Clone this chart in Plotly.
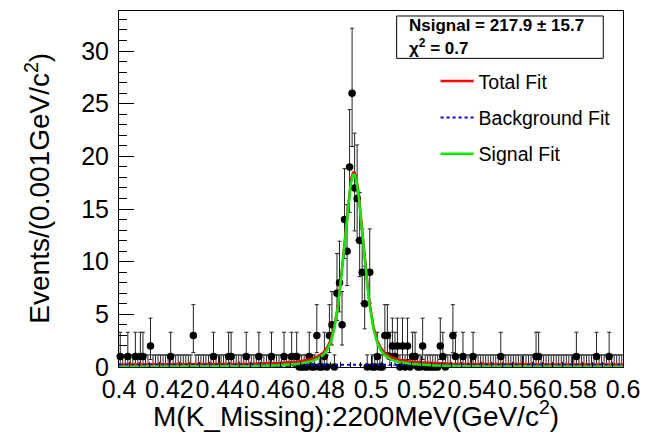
import math
import numpy as np
import plotly.graph_objects as go

FONT = "Liberation Sans, Arial, Helvetica, sans-serif"

# ---------------------------------------------------------------- data
X_RANGE = [0.4, 0.6]
Y_RANGE = [0.0, 33.8]
BIN_WIDTH = 0.001

# events per 1 MeV bin of M(K_Missing), 0.400 - 0.600 GeV (20 bins per row)
counts = [
    1, 0, 0, 1, 0, 0, 1, 0, 1, 1,   0, 0, 2, 0, 0, 0, 0, 0, 0, 0,   # 0.400-0.419
    1, 0, 0, 0, 0, 0, 0, 0, 0, 3,   0, 0, 0, 0, 0, 0, 0, 1, 0, 0,   # 0.420-0.439
    0, 0, 0, 1, 1, 0, 0, 0, 0, 0,   1, 0, 0, 0, 0, 1, 0, 0, 0, 0,   # 0.440-0.459
    1, 0, 0, 0, 0, 1, 0, 0, 1, 0,   1, 0, 0, 0, 0, 1, 0, 0, 3, 0,   # 0.460-0.479
    0, 1, 0, 3, 4, 0, 7, 8, 4, 14,  11, 19, 26, 17, 16, 12, 9, 6, 0, 9,  # 0.480-0.499
    0, 0, 1, 0, 0, 3, 3, 1, 2, 1,   2, 0, 2, 0, 2, 0, 1, 1, 0, 0,   # 0.500-0.519
    2, 0, 0, 0, 0, 0, 0, 2, 1, 0,   0, 0, 3, 1, 0, 0, 1, 0, 0, 0,   # 0.520-0.539
    1, 0, 0, 0, 0, 0, 0, 0, 0, 0,   0, 1, 0, 0, 0, 0, 0, 0, 0, 0,   # 0.540-0.559
    0, 0, 0, 0, 0, 1, 1, 0, 0, 0,   0, 0, 0, 0, 0, 0, 0, 0, 0, 0,   # 0.560-0.579
    0, 1, 0, 0, 0, 0, 0, 0, 0, 1,   0, 0, 0, 0, 1, 0, 0, 0, 0, 0,   # 0.580-0.599
]

x_tick_vals = [0.40, 0.42, 0.44, 0.46, 0.48, 0.50, 0.52, 0.54, 0.56, 0.58, 0.60]
x_tick_text = ["0.4", "0.42", "0.44", "0.46", "0.48", "0.5",
               "0.52", "0.54", "0.56", "0.58", "0.6"]
y_tick_vals = [0, 5, 10, 15, 20, 25, 30]
y_tick_text = ["0", "5", "10", "15", "20", "25", "30"]

# fit result
N_SIGNAL = 217.9
N_SIGNAL_ERR = 15.7
CHI2 = 0.7
PEAK_MEAN = 0.4932      # GeV
PEAK_SIGMA = 0.0030     # Gaussian resolution, GeV
PEAK_GAMMA = 0.0040     # Breit-Wigner width (FWHM), GeV
BKG_PER_BIN = 0.22      # flat background, events / bin

# empty bins whose markers sit on the axis around the peak
ZERO_MARKER_WINDOW = (0.4715, 0.5305)

# ---------------------------------------------------------------- helpers
counts = np.array(counts, dtype=float)
centers = X_RANGE[0] + BIN_WIDTH * (np.arange(len(counts)) + 0.5)


def poisson_cdf(n, mu):
    if n < 0:
        return 0.0
    return sum(math.exp(-mu + k * math.log(mu) - math.lgamma(k + 1)) for k in range(n + 1))


def bisect(f, a, b, it=80):
    fa = f(a)
    for _ in range(it):
        m = 0.5 * (a + b)
        fm = f(m)
        if (fm > 0) == (fa > 0):
            a, fa = m, fm
        else:
            b = m
    return 0.5 * (a + b)


def poisson_interval(n):
    """Central 68.27% Poisson interval (one-sided for an empty bin)."""
    if n == 0:
        return 0.0, 1.147
    alpha = 0.5 * (1.0 - 0.682689)
    lo = bisect(lambda mu: (1.0 - poisson_cdf(n - 1, mu)) - alpha, 1e-9, float(n))
    hi = bisect(lambda mu: poisson_cdf(n, mu) - alpha, float(n), n + 10.0 * math.sqrt(n) + 10.0)
    return lo, hi


err_lo, err_hi = [], []
for c in counts.astype(int):
    lo, hi = poisson_interval(int(c))
    err_lo.append(c - lo)
    err_hi.append(hi - c)

marker_size = [7.5 if (c > 0 or ZERO_MARKER_WINDOW[0] < x < ZERO_MARKER_WINDOW[1]) else 0
               for c, x in zip(counts, centers)]


def voigt(x, mean, sigma, gamma_fwhm):
    hw = 0.5 * gamma_fwhm
    t = np.linspace(-6 * sigma, 6 * sigma, 801)
    dt = t[1] - t[0]
    g = np.exp(-0.5 * (t / sigma) ** 2) / (sigma * math.sqrt(2 * math.pi))
    d = (x[:, None] - mean - t[None, :])
    lor = (hw / math.pi) / (d ** 2 + hw ** 2)
    return (g[None, :] * lor).sum(axis=1) * dt


x_fit = np.linspace(X_RANGE[0], X_RANGE[1], 1601)
signal = N_SIGNAL * BIN_WIDTH * voigt(x_fit, PEAK_MEAN, PEAK_SIGMA, PEAK_GAMMA)
background = np.full_like(x_fit, BKG_PER_BIN)
total = signal + background

# ---------------------------------------------------------------- figure
W, H = 650, 444
ML, MR, MT, MB = 119, 20, 10, 77


def px_x(px):
    return (px - ML) / (W - ML - MR)


def px_y(py):
    return (H - MB - py) / (H - MT - MB)


fig = go.Figure()

fig.add_trace(go.Scatter(
    x=centers, y=counts, mode="markers", showlegend=False, cliponaxis=False,
    marker=dict(color="black", size=marker_size, symbol="circle", opacity=1,
                line=dict(width=0)),
    error_y=dict(type="data", symmetric=False, array=err_hi, arrayminus=err_lo,
                 color="#222222", thickness=1, width=2),
    error_x=dict(type="constant", value=BIN_WIDTH / 2, color="#222222", thickness=1, width=0),
    hoverinfo="skip",
))

fig.add_trace(go.Scatter(
    x=x_fit, y=total, mode="lines", name="Total Fit", legendgroup="total",
    line=dict(color="#ff0000", width=2.5),
))
fig.add_trace(go.Scatter(
    x=x_fit, y=background, mode="lines", name="Background Fit", legendgroup="bkg",
    line=dict(color="#0000ff", width=2, dash="dot"),
))
fig.add_trace(go.Scatter(
    x=x_fit, y=signal, mode="lines", name="Signal Fit", legendgroup="sig",
    line=dict(color="#00ee00", width=2.5),
))

axis_common = dict(
    showline=True, linecolor="black", linewidth=1, mirror=True,
    ticks="inside", tickcolor="black", tickwidth=1,
    showgrid=False, zeroline=False,
    tickfont=dict(family=FONT, size=25, color="black"),
)

fig.update_xaxes(
    range=X_RANGE, tickmode="array", tickvals=x_tick_vals, ticktext=x_tick_text,
    ticklen=11, tickangle=0,
    minor=dict(dtick=0.004, tick0=0.4, ticks="inside", ticklen=5, tickcolor="black"),
    **axis_common,
)
fig.update_yaxes(
    range=Y_RANGE, tickmode="array", tickvals=y_tick_vals, ticktext=y_tick_text,
    ticklen=15, ticklabelstandoff=4,
    minor=dict(dtick=1, tick0=0, ticks="inside", ticklen=8, tickcolor="black"),
    **axis_common,
)

annotations = [
    dict(text="Events/(0.001GeV/c<sup>2</sup>)", textangle=-90,
         x=px_x(36), y=px_y(188), xref="paper", yref="paper",
         xanchor="center", yanchor="middle", showarrow=False,
         font=dict(family=FONT, size=28, color="black")),
    dict(text="M(K_Missing):2200MeV(GeV/c<sup>2</sup>)",
         x=px_x(359), y=px_y(414), xref="paper", yref="paper",
         xanchor="center", yanchor="middle", showarrow=False,
         font=dict(family=FONT, size=28, color="black")),
    dict(text=f"<b>Nsignal = {N_SIGNAL:.1f} \u00b1 {N_SIGNAL_ERR:.1f}</b>",
         x=px_x(411), y=px_y(25), xref="paper", yref="paper",
         xanchor="left", yanchor="middle", showarrow=False,
         font=dict(family=FONT, size=17, color="black")),
    dict(text=f"<b>\u03c7<sup>2</sup> = {CHI2:.1f}</b>",
         x=px_x(411), y=px_y(46.5), xref="paper", yref="paper",
         xanchor="left", yanchor="middle", showarrow=False,
         font=dict(family=FONT, size=17, color="black")),
]

shapes = [
    dict(type="rect", xref="paper", yref="paper",
         x0=px_x(400.5), x1=px_x(610), y0=px_y(57.5), y1=px_y(15),
         line=dict(color="black", width=1), fillcolor="white", layer="above"),
]

fig.update_layout(
    width=W, height=H,
    margin=dict(l=ML, r=MR, t=MT, b=MB),
    paper_bgcolor="white", plot_bgcolor="white",
    font=dict(family=FONT, color="black"),
    annotations=annotations, shapes=shapes,
    legend=dict(x=px_x(440), y=px_y(61), xanchor="left", yanchor="top",
                font=dict(family=FONT, size=19.5, color="black"),
                bgcolor="rgba(0,0,0,0)", borderwidth=0,
                tracegroupgap=8, itemwidth=33, traceorder="grouped"),
)

fig.write_html("out.html")
